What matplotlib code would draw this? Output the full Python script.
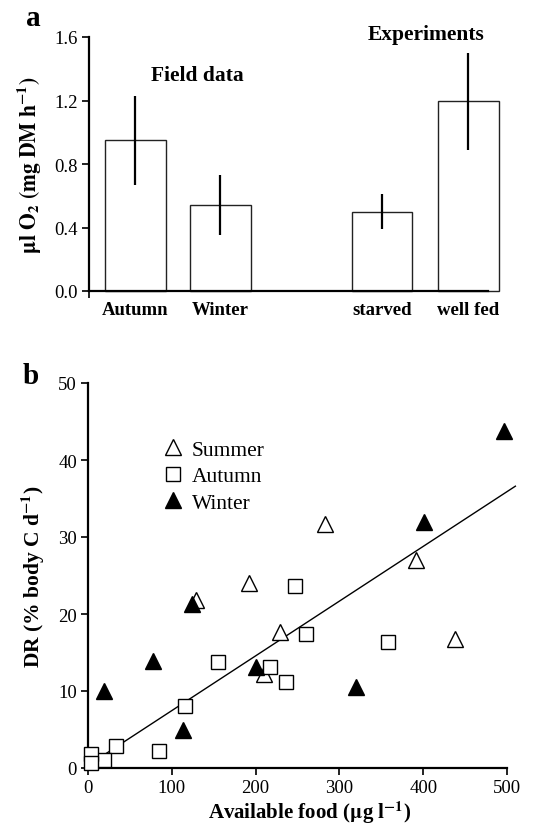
import numpy as np
import matplotlib
matplotlib.use("Agg")
import matplotlib.pyplot as plt

plt.rcParams["font.family"] = ["Liberation Serif", "DejaVu Serif"]
plt.rcParams["mathtext.fontset"] = "stix"

# ── panel a: respiration rates ───────────────────────────────────────────────
bar_labels = ["Autumn", "Winter", "starved", "well fed"]
bar_pos    = [0.0, 1.0, 2.9, 3.92]
bar_vals   = [0.95, 0.54, 0.50, 1.20]
err_low    = [0.67, 0.35, 0.39, 0.89]
err_high   = [1.23, 0.73, 0.61, 1.50]

# ── panel b: digestion rate vs available food ────────────────────────────────
summer_x = [283, 392, 192, 129, 229, 438, 210]
summer_y = [31.7, 27.0, 24.0, 21.8, 17.7, 16.7, 12.2]

autumn_x = [247, 260, 358, 155, 217, 236, 116, 34, 85, 19, 3, 3]
autumn_y = [23.6, 17.4, 16.3, 13.8, 13.1, 11.2, 8.0, 2.9, 2.2, 1.1, 1.8, 0.6]

winter_x = [496, 401, 124, 78, 200, 19, 320, 113]
winter_y = [43.8, 31.9, 21.3, 13.9, 13.1, 10.0, 10.5, 5.0]

fit_x = [5, 510]
fit_y = [0.7, 36.6]

W, H = 536, 828
fig = plt.figure(figsize=(W / 100, H / 100), dpi=100)

def frac(x0, y0, x1, y1):
    return [x0 / W, 1 - y1 / H, (x1 - x0) / W, (y1 - y0) / H]

# ─────────────────────────────────────────────────────────────────────────────
# a
# ─────────────────────────────────────────────────────────────────────────────
ax = fig.add_axes(frac(89, 38, 488, 292))
yerr = [np.array(bar_vals) - np.array(err_low), np.array(err_high) - np.array(bar_vals)]
ax.bar(bar_pos, bar_vals, width=0.71, color="white", edgecolor="#222222",
       linewidth=1.0, clip_on=False)
ax.errorbar(bar_pos, bar_vals, yerr=yerr, fmt="none", ecolor="black",
            elinewidth=1.6, capsize=0)
ax.set_xlim(-0.547, 4.15)
ax.set_ylim(0, 1.6)
ax.set_yticks([0.0, 0.4, 0.8, 1.2, 1.6])
ax.set_yticklabels(["0.0", "0.4", "0.8", "1.2", "1.6"], fontsize=13.5)
ax.set_xticks([-0.547])
ax.set_xticklabels([""])
ax.tick_params(axis="both", direction="out", length=5, width=1.4, color="#222222", pad=3)
for s in ["top", "right"]:
    ax.spines[s].set_visible(False)
for s in ["left", "bottom"]:
    ax.spines[s].set_linewidth(1.6)
for p, lab in zip(bar_pos, bar_labels):
    ax.text(p, -0.065, lab, ha="center", va="top", fontsize=13.5, fontweight="bold")
ax.text(0.73, 1.36, "Field data", ha="center", va="center", fontsize=15.5, fontweight="bold")
ax.text(3.42, 1.62, "Experiments", ha="center", va="center", fontsize=15.5,
        fontweight="bold", clip_on=False)
ax.set_ylabel(r"$\mathbf{\mu l\ O_2\ (mg\ DM\ h^{-1})}$", fontsize=15.5, labelpad=8)
fig.text(33 / W, 1 - 18 / H, "a", fontsize=21, fontweight="bold", ha="center", va="center")

# ─────────────────────────────────────────────────────────────────────────────
# b
# ─────────────────────────────────────────────────────────────────────────────
bx = fig.add_axes(frac(88, 384, 507, 769))
bx.plot(fit_x, fit_y, color="black", lw=1.0, clip_on=False, zorder=2)
bx.plot(summer_x, summer_y, ls="none", marker="^", ms=11, mfc="white",
        mec="black", mew=1.0, clip_on=False, zorder=3, label="Summer")
bx.plot(autumn_x, autumn_y, ls="none", marker="s", ms=9.5, mfc="white",
        mec="black", mew=1.0, clip_on=False, zorder=3, label="Autumn")
bx.plot(winter_x, winter_y, ls="none", marker="^", ms=11, mfc="black",
        mec="black", mew=1.0, clip_on=False, zorder=3, label="Winter")
bx.set_xlim(0, 500)
bx.set_ylim(0, 50)
bx.set_xticks(range(0, 501, 100))
bx.set_yticks(range(0, 51, 10))
bx.tick_params(axis="both", direction="out", length=5, width=1.4,
               color="#222222", labelsize=13.5, pad=3)
for s in ["top", "right"]:
    bx.spines[s].set_visible(False)
for s in ["left", "bottom"]:
    bx.spines[s].set_linewidth(1.6)
fig.text(310 / W, 1 - 819 / H, r"Available food ($\mathbf{\mu}$g l$^{\mathbf{-1}}$)",
         fontsize=15, fontweight="bold", ha="center", va="baseline")
bx.set_ylabel(r"DR (% body C d$^{\mathbf{-1}}$)", fontsize=15.5, fontweight="bold", labelpad=8)
bx.legend(loc="upper left", bbox_to_anchor=(0.155, 0.875), frameon=False, fontsize=15.5,
          handletextpad=0.3, labelspacing=0.3, handlelength=1.1, borderaxespad=0)
fig.text(31 / W, 1 - 377 / H, "b", fontsize=21, fontweight="bold", ha="center", va="center")

fig.savefig("out.png", dpi=100)
